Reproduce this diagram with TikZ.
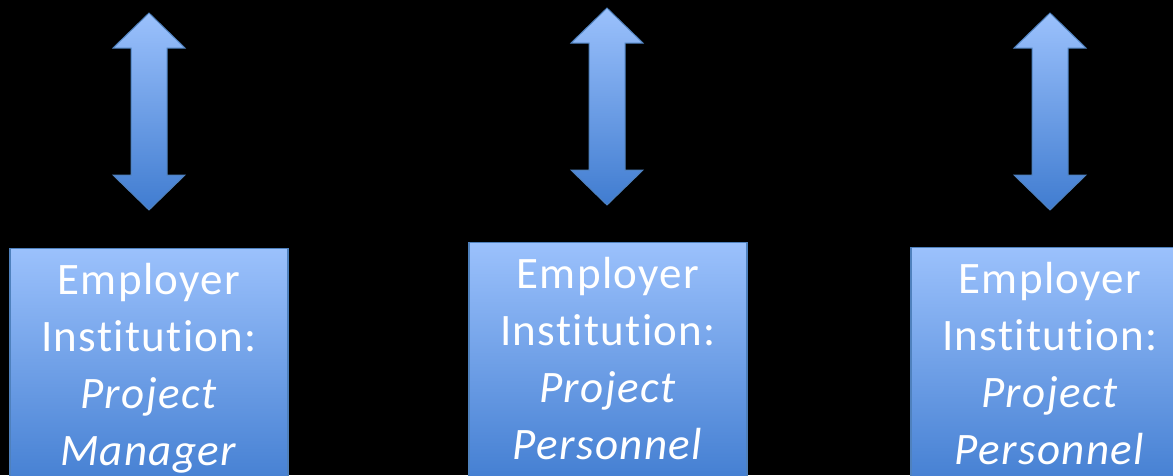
\documentclass[tikz,border=0pt]{standalone}
\usepackage{fontspec}
\setmainfont{Carlito}[Ligatures=NoCommon,LetterSpace=3]
\usepackage{tikz}
\newcommand{\dblarrow}[3]% center x, top y, bottom y
{(#1,#2) -- (#1+36,#2+35) -- (#1+18,#2+35) -- (#1+18,#3-35) -- (#1+36,#3-35)
 -- (#1,#3) -- (#1-36,#3-35) -- (#1-18,#3-35) -- (#1-18,#2+35) -- (#1-36,#2+35) -- cycle
}
\definecolor{lightblue}{RGB}{155,193,252}
\definecolor{darkblue}{RGB}{64,124,208}
\definecolor{edgeblue}{RGB}{79,129,189}
\tikzset{
	empbox/.style={draw=edgeblue, line width=1.2pt, top color=lightblue, bottom color=darkblue,
		minimum width=278, minimum height=248, inner sep=0pt, text width=275, align=center,
		text=white, font=\fontsize{45}{57}\selectfont},
	blockarrow/.style={draw=edgeblue, line width=1pt, top color=lightblue, bottom color=darkblue}
}

\begin{document}
\begin{tikzpicture}[x=1pt,y=-1pt]
	\clip (0,0) rectangle (1173,475);
	\fill[black] (0,0) rectangle (1173,475);
	\draw[blockarrow] \dblarrow{149}{13}{210};%left
	\draw[blockarrow] \dblarrow{607}{8}{205};%middle
	\draw[blockarrow] \dblarrow{1050}{13}{210};%right
	\node[empbox, anchor=north] (manager) at (149,248){Employer\\Institution:\\\textit{Project}\\\textit{Manager}\strut};
	\node[empbox, anchor=north] (personnelA) at (608,242){Employer\\Institution:\\\textit{Project}\\\textit{Personnel}\strut};
	\node[empbox, anchor=north] (personnelB) at (1050,247){Employer\\Institution:\\\textit{Project}\\\textit{Personnel}\strut};
\end{tikzpicture}
\end{document}
